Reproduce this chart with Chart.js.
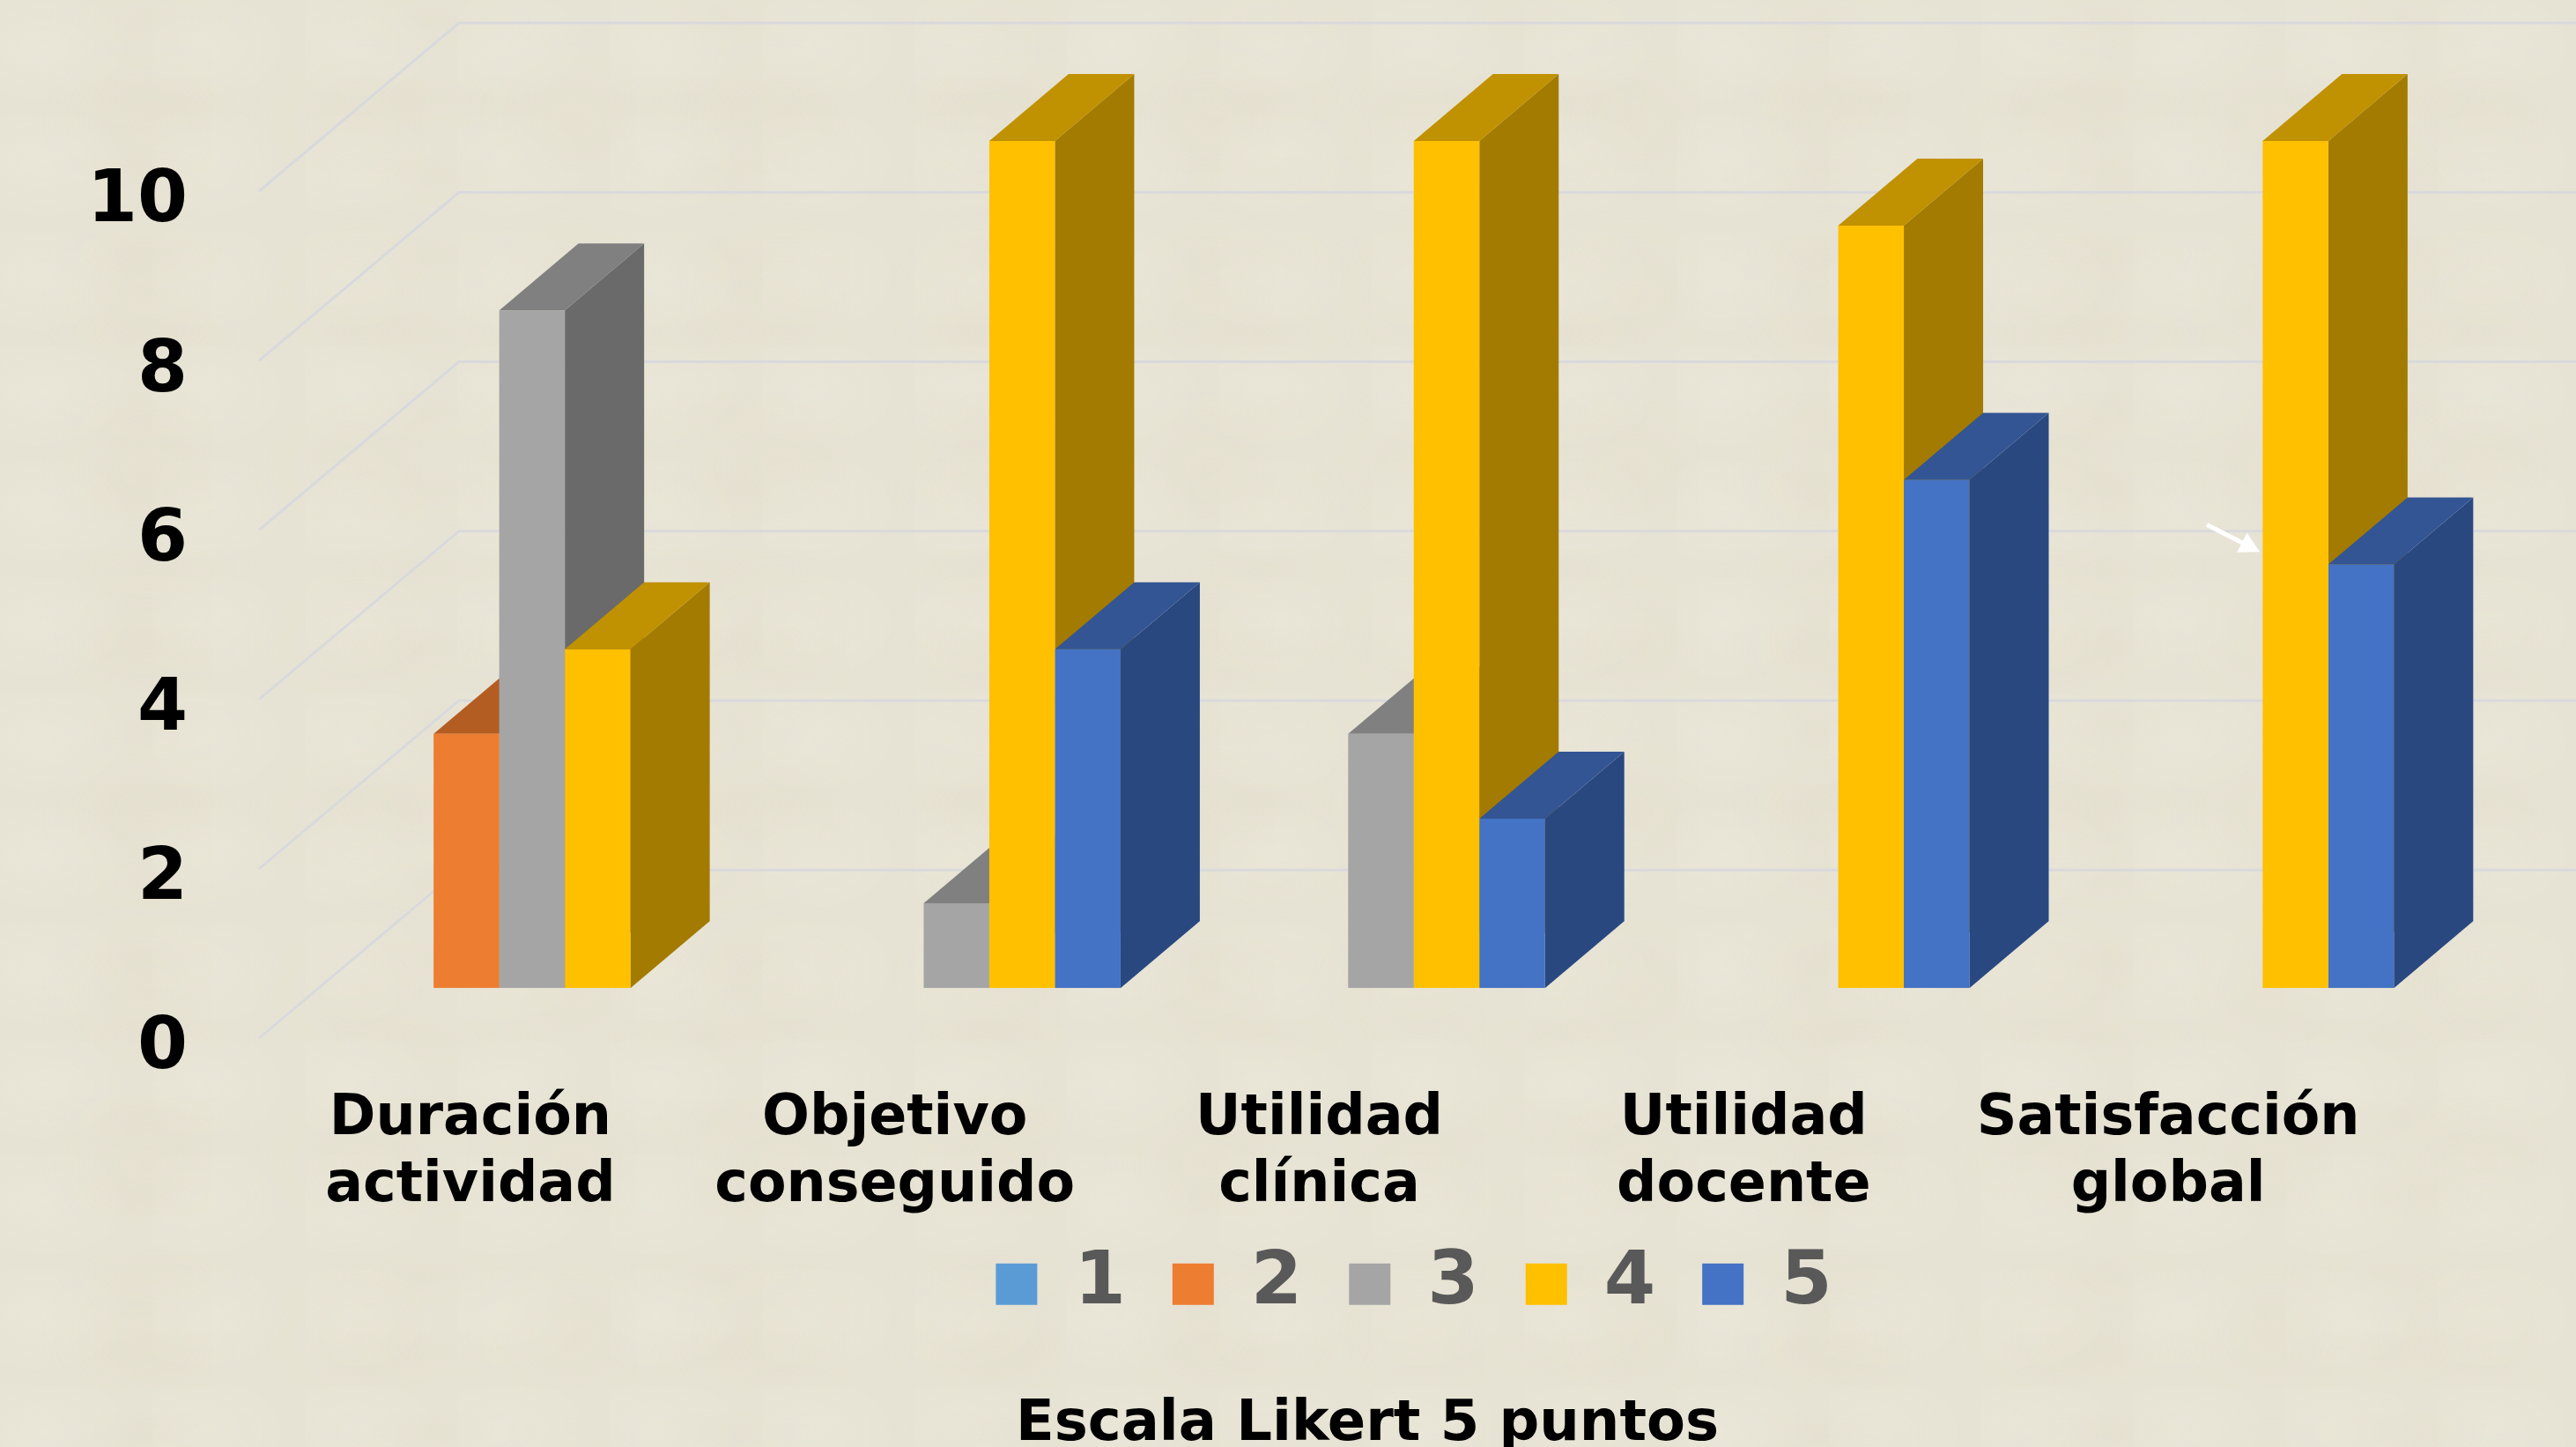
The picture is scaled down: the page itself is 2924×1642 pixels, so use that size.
<!DOCTYPE html>
<html>
<head>
<meta charset="utf-8">
<title>Escala Likert 5 puntos</title>
<script src="https://cdn.jsdelivr.net/npm/chart.js@4"></script>
<style>
    html, body { margin: 0; padding: 0; overflow: hidden; }
    /* parchment look of the slide background */
    body {
        background-color: #e7e3d4;
        background-image:
            radial-gradient(ellipse at 30% 40%, rgba(255, 255, 245, 0.11), rgba(255, 255, 245, 0) 60%),
            radial-gradient(ellipse at 70% 70%, rgba(214, 204, 176, 0.08), rgba(214, 204, 176, 0) 55%),
            radial-gradient(ellipse at 55% 25%, rgba(214, 204, 176, 0.06), rgba(214, 204, 176, 0) 50%);
        background-size: 173px 131px, 241px 197px, 317px 89px;
    }
    canvas { display: block; }
</style>
</head>
<body>
<canvas id="likertChart" width="2924" height="1642"></canvas>
<script>
const categories = [
    ["Duración", "actividad"],
    ["Objetivo", "conseguido"],
    ["Utilidad", "clínica"],
    ["Utilidad", "docente"],
    ["Satisfacción", "global"],
];
const seriesNames = ["1", "2", "3", "4", "5"];
const values1 = [null, null, null, null, null];
const values2 = [3, null, null, null, null];
const values3 = [8, 1, 3, null, null];
const values4 = [4, 10, 10, 9, 10];
const values5 = [null, 4, 2, 6, 5];
const yTicks = [0, 2, 4, 6, 8, 10];
const titleText = "Escala Likert 5 puntos";

const frontColors = ["#5b9bd5", "#ed7d31", "#a5a5a5", "#ffc000", "#4472c4"];
const topColors = ["#44749f", "#b45d22", "#808080", "#c09100", "#335593"];
const sideColors = ["#366083", "#96511f", "#6a6a6a", "#a37b00", "#2a4880"];

const FONT = '"DejaVu Sans", Verdana, sans-serif';
const DEPTH_X = 90;
const DEPTH_Y = 76;

// side and top faces go under the bars the library draws
const bars3d = {
    id: "bars3d",
    afterLayout(chart) {
        // legend and title are not centred on the canvas in the original
        chart.legend.left += 219;
        chart.legend.right += 219;
        chart.legend.top -= 62;
        chart.titleBlock.left += 166;
        chart.titleBlock.right += 166;
        chart.titleBlock.top += 8;
    },
    beforeDatasetsDraw(chart) {
        const ctx = chart.ctx;
        const y = chart.scales.y;

        // walls: oblique lines on the left, flat lines on the back
        ctx.save();
        ctx.strokeStyle = "#d9d9dd";
        ctx.lineWidth = 3;
        yTicks.forEach((tick) => {
            const py = y.getPixelForValue(tick);
            ctx.beginPath();
            ctx.moveTo(chart.chartArea.left - 69, py + 57);
            ctx.lineTo(chart.chartArea.left + 158, py - 134);
            ctx.lineTo(chart.chartArea.right + 158, py - 134);
            ctx.stroke();
        });
        ctx.restore();

        chart.data.datasets.forEach((dataset, i) => {
            chart.getDatasetMeta(i).data.forEach((bar, j) => {
                if (dataset.data[j] === null) return;
                const left = bar.x - bar.width / 2;
                const right = bar.x + bar.width / 2;

                ctx.fillStyle = sideColors[i];
                ctx.beginPath();
                ctx.moveTo(right, bar.y);
                ctx.lineTo(right + DEPTH_X, bar.y - DEPTH_Y);
                ctx.lineTo(right + DEPTH_X, bar.base - DEPTH_Y);
                ctx.lineTo(right, bar.base);
                ctx.closePath();
                ctx.fill();

                ctx.fillStyle = topColors[i];
                ctx.beginPath();
                ctx.moveTo(left, bar.y);
                ctx.lineTo(left + DEPTH_X, bar.y - DEPTH_Y);
                ctx.lineTo(right + DEPTH_X, bar.y - DEPTH_Y);
                ctx.lineTo(right, bar.y);
                ctx.closePath();
                ctx.fill();
            });
        });
    },
    afterDraw(chart) {
        // small white arrow left on the slide, next to the last group
        const ctx = chart.ctx;
        const x = chart.scales.x.getPixelForValue(4);
        const y = chart.scales.y;
        const x0 = x - 26, y0 = y.getPixelForValue(5.47);
        const x1 = x + 34, y1 = y.getPixelForValue(5.15);
        const angle = Math.atan2(y1 - y0, x1 - x0);
        ctx.save();
        ctx.strokeStyle = "#ffffff";
        ctx.fillStyle = "#ffffff";
        ctx.lineWidth = 5;
        ctx.beginPath();
        ctx.moveTo(x0, y0);
        ctx.lineTo(x1 - 14 * Math.cos(angle), y1 - 14 * Math.sin(angle));
        ctx.stroke();
        ctx.beginPath();
        ctx.moveTo(x1, y1);
        ctx.lineTo(x1 - 26 * Math.cos(angle - 0.5), y1 - 26 * Math.sin(angle - 0.5));
        ctx.lineTo(x1 - 26 * Math.cos(angle + 0.5), y1 - 26 * Math.sin(angle + 0.5));
        ctx.closePath();
        ctx.fill();
        ctx.restore();
    },
};

const allValues = [values1, values2, values3, values4, values5];

new Chart(document.getElementById("likertChart"), {
    type: "bar",
    data: {
        labels: categories,
        datasets: seriesNames.map((name, i) => ({
            label: name,
            data: allValues[i],
            backgroundColor: frontColors[i],
            barPercentage: 1,
            categoryPercentage: 0.773,
        })),
    },
    options: {
        responsive: false,
        animation: false,
        layout: { padding: { top: 160, right: 152, left: 0, bottom: 0 } },
        scales: {
            x: {
                grid: { display: false, drawTicks: false },
                border: { display: false },
                afterFit: (scale) => {
                    scale.height = 303;
                    scale.paddingLeft = 0;
                    scale.paddingRight = 0;
                },
                ticks: {
                    color: "#000000",
                    font: { family: FONT, size: 63.5, weight: "bold" },
                    padding: 111,
                    labelOffset: -70,
                    maxRotation: 0,
                    autoSkip: false,
                },
            },
            y: {
                min: 0,
                max: 10,
                grid: { display: false, drawTicks: false },
                border: { display: false },
                afterFit: (scale) => {
                    // tick padding would otherwise push the plot top down
                    scale.width = 363;
                    scale.paddingTop = 0;
                    scale.paddingBottom = 0;
                },
                ticks: {
                    stepSize: 2,
                    color: "#000000",
                    font: { family: FONT, size: 82, weight: "bold" },
                    padding: 150,
                    labelOffset: 70,
                },
            },
        },
        plugins: {
            tooltip: { enabled: false },
            legend: {
                position: "bottom",
                labels: {
                    color: "#595959",
                    font: { family: FONT, size: 84, weight: "bold" },
                    boxWidth: 47,
                    boxHeight: 47,
                    padding: 53,
                },
            },
            title: {
                display: true,
                position: "bottom",
                text: titleText,
                color: "#000000",
                font: { family: FONT, size: 64, weight: "bold" },
                padding: { top: 0, bottom: -6 },
            },
        },
    },
    plugins: [bars3d],
});
</script>
</body>
</html>
